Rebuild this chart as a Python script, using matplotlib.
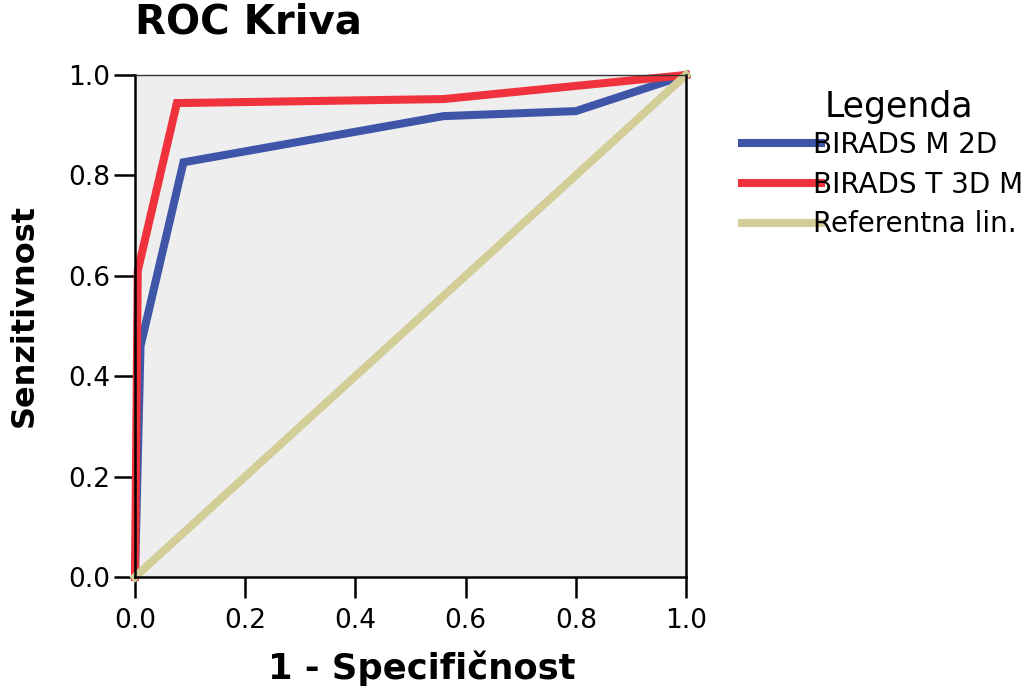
import matplotlib
matplotlib.use("Agg")
import matplotlib.pyplot as plt

# ROC points
fpr_2d = [0.0, 0.01, 0.088, 0.56, 0.80, 1.0]
tpr_2d = [0.0, 0.46, 0.826, 0.918, 0.928, 1.0]

fpr_3d = [0.0, 0.005, 0.076, 0.56, 1.0]
tpr_3d = [0.0, 0.61, 0.944, 0.952, 1.0]

ref_x = [0.0, 1.0]
ref_y = [0.0, 1.0]

labels = ["BIRADS M 2D", "BIRADS T 3D M", "Referentna lin."]
colors = ["#3F55A8", "#F0323C", "#D3CE98"]
ticks = [0.0, 0.2, 0.4, 0.6, 0.8, 1.0]


def plot_roc():
    fig = plt.figure(figsize=(10.36, 6.89), dpi=100)
    ax = fig.add_axes([0.1303, 0.1626, 0.5319, 0.7286])
    ax.set_facecolor("#EEEEEE")

    lw = 5.8
    ax.plot(fpr_2d, tpr_2d, color=colors[0], lw=lw, label=labels[0],
            clip_on=False, solid_joinstyle="miter")
    ax.plot(fpr_3d, tpr_3d, color=colors[1], lw=lw, label=labels[1],
            clip_on=False, solid_joinstyle="miter")
    ax.plot(ref_x, ref_y, color=colors[2], lw=lw, label=labels[2],
            clip_on=False)

    ax.set_xlim(0, 1)
    ax.set_ylim(0, 1)
    ax.set_xticks(ticks)
    ax.set_yticks(ticks)
    ax.set_xticklabels([f"{t:.1f}" for t in ticks])
    ax.set_yticklabels([f"{t:.1f}" for t in ticks])
    ax.tick_params(axis="both", direction="out", length=15, width=1.8,
                   labelsize=19, color="black")
    ax.tick_params(axis="y", pad=3)
    ax.tick_params(axis="x", pad=7)

    for side in ["left", "bottom", "right"]:
        ax.spines[side].set_linewidth(1.8)
        ax.spines[side].set_color("black")
    ax.spines["top"].set_linewidth(1.0)
    ax.spines["top"].set_color("#333333")

    ax.set_title("ROC Kriva", loc="left", fontsize=29, fontweight="bold", pad=30)
    ax.set_xlabel("1 - Specifičnost", fontsize=25.5, fontweight="bold", labelpad=12)
    ax.set_ylabel("Senzitivnost", fontsize=23, fontweight="bold", labelpad=20)
    ax.xaxis.label.set_x(0.52)
    ax.yaxis.label.set_y(0.52)

    # legend title as separate text, entries via fig.legend
    fig.text(825 / 1036, 1 - 117 / 689, "Legenda", fontsize=25,
             ha="left", va="baseline")
    handles, lbls = ax.get_legend_handles_labels()
    fig.legend(handles, lbls, loc="upper left",
               bbox_to_anchor=(717 / 1036, 1 - 106 / 689),
               frameon=False, fontsize=20, handlelength=2.85,
               handletextpad=-0.3, labelspacing=0.42)

    fig.savefig("out.png", dpi=100)


if __name__ == "__main__":
    plot_roc()
